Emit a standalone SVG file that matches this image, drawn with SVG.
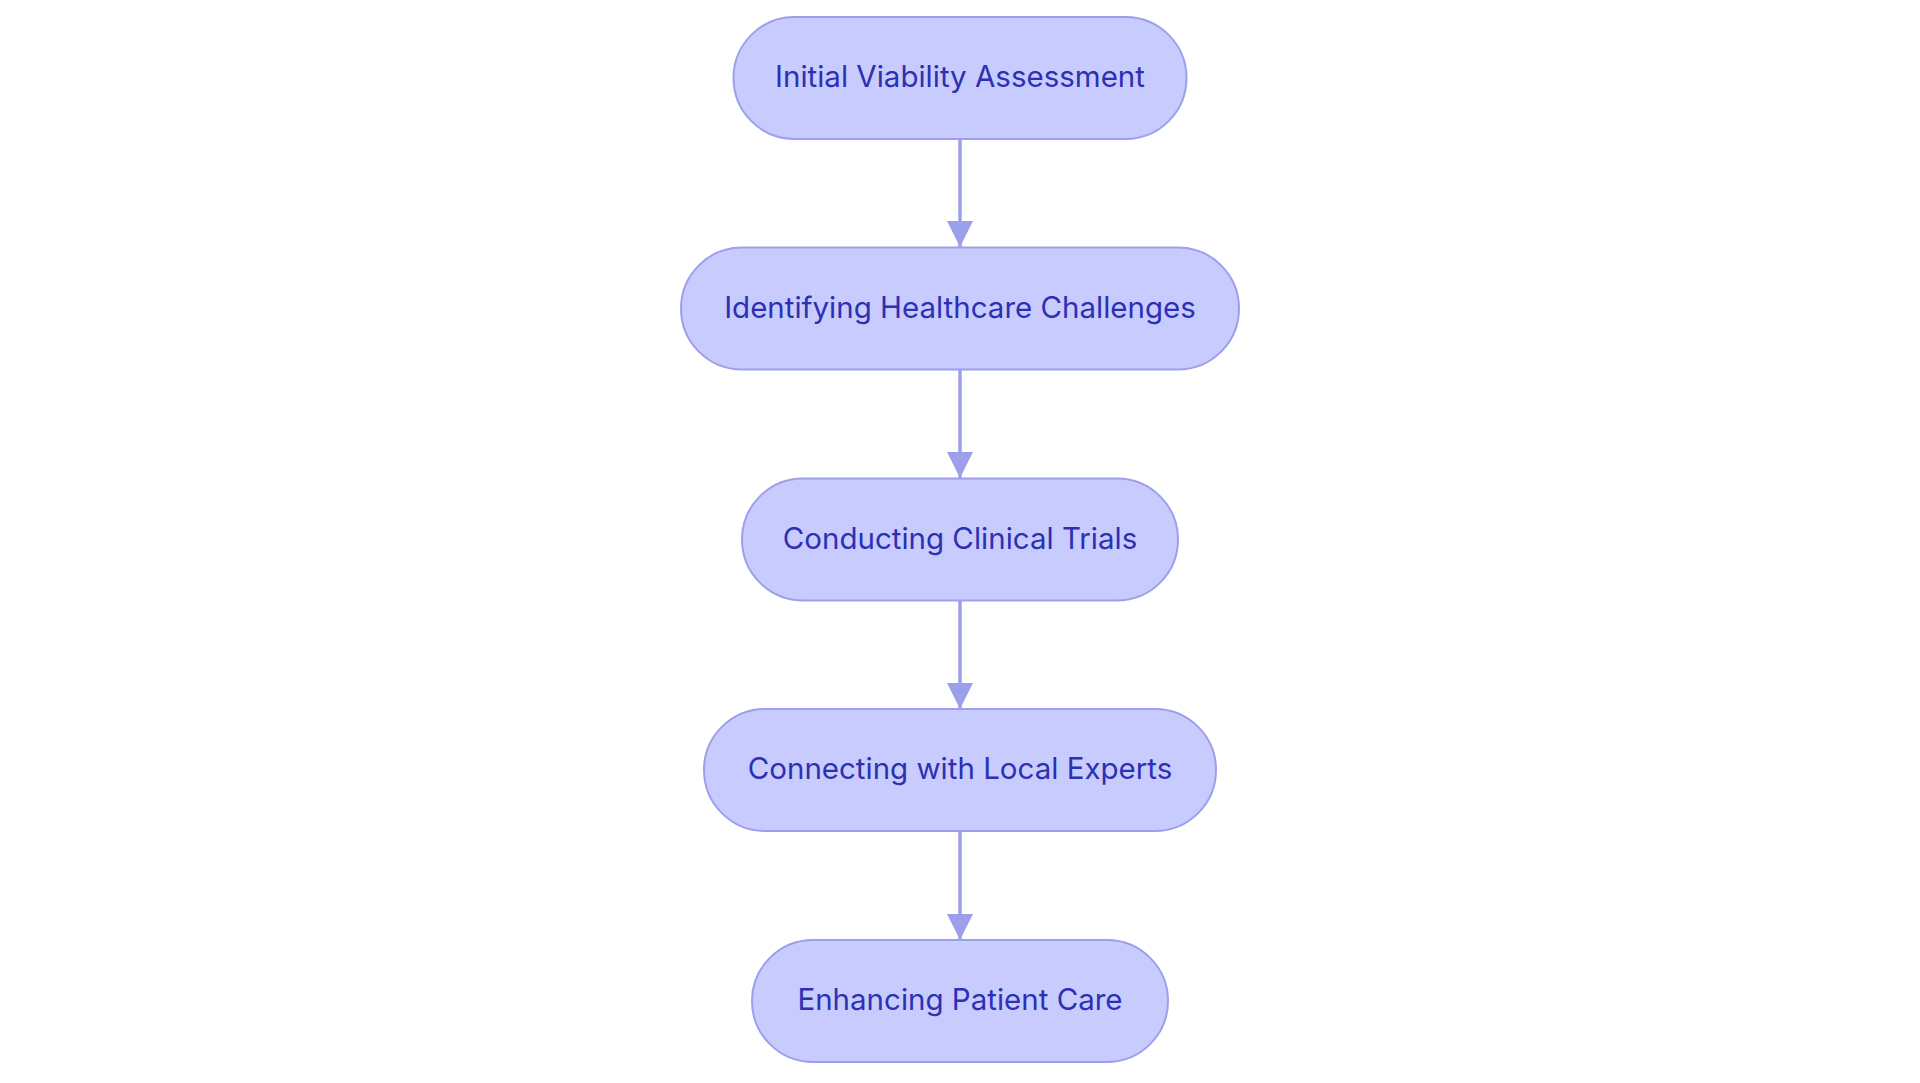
<svg xmlns="http://www.w3.org/2000/svg" width="1920" height="1083" viewBox="0 0 1920 1083">
<defs>
<style>
.node rect{fill:#c8cbfe;stroke:#9ca0ea;stroke-width:2}
.node text{font-family:Inter,"Noto Sans",sans-serif;font-size:29.5px;fill:#2c30b3;text-anchor:middle}
.edge{stroke:#9ca0ea;stroke-width:3.5;fill:none}
</style>
<marker id="arr" viewBox="0 0 26 26" refX="26" refY="13" markerWidth="26" markerHeight="26" markerUnits="userSpaceOnUse" orient="auto">
<path d="M0,0 L26,13 L0,26 Z" fill="#9ca0ea"/>
</marker>
</defs>
<rect width="1920" height="1083" fill="#ffffff"/>
<g id="connectors">
<line class="edge" x1="960" y1="139" x2="960" y2="247" marker-end="url(#arr)"/>
<line class="edge" x1="960" y1="370" x2="960" y2="478" marker-end="url(#arr)"/>
<line class="edge" x1="960" y1="600" x2="960" y2="709" marker-end="url(#arr)"/>
<line class="edge" x1="960" y1="831" x2="960" y2="940" marker-end="url(#arr)"/>
</g>
<g id="n1" class="node"><rect x="733.5" y="17" width="453" height="122" rx="61"/><text x="960" y="87">Initial Viability Assessment</text></g>
<g id="n2" class="node"><rect x="681" y="247.5" width="558" height="122" rx="61"/><text x="960" y="317.5">Identifying Healthcare Challenges</text></g>
<g id="n3" class="node"><rect x="742" y="478.5" width="436" height="122" rx="61"/><text x="960" y="548.5">Conducting Clinical Trials</text></g>
<g id="n4" class="node"><rect x="704" y="709" width="512" height="122" rx="61"/><text x="960" y="779">Connecting with Local Experts</text></g>
<g id="n5" class="node"><rect x="752" y="940" width="416" height="122" rx="61"/><text x="960" y="1010">Enhancing Patient Care</text></g>
</svg>
